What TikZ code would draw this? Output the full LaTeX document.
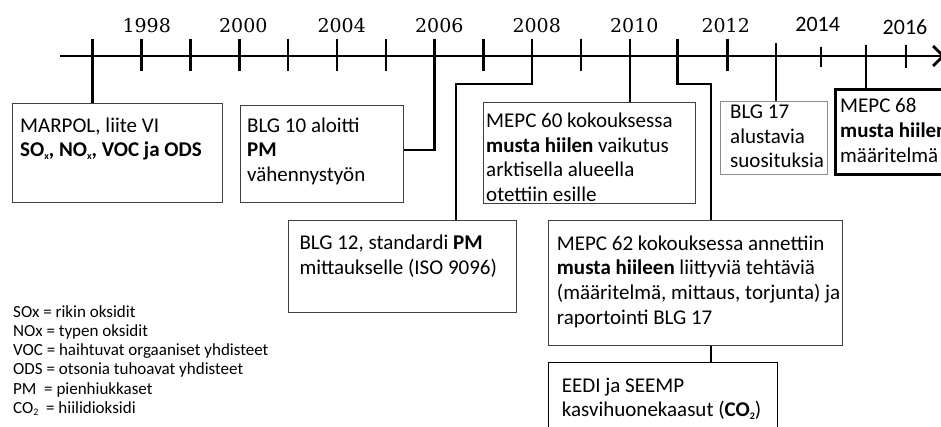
\documentclass[tikz,border=0pt]{standalone}
\usepackage{fontspec}
\setmainfont{Carlito}
\newfontfamily\yearfont{DejaVu Serif}
\usetikzlibrary{arrows.meta}
% fixed height for the first line of every text block
\newcommand\bxstrut{\rule{0pt}{16pt}}
\newcommand\lgstrut{\rule{0pt}{13pt}}
% small lowered index, as in SO_x
\newcommand\lowidx[1]{\raisebox{-2.5pt}{\fontsize{10}{10}\selectfont #1}}
\begin{document}
\begin{tikzpicture}[x=1pt,y=-1pt,
  conn/.style={line width=2.7pt,line join=miter},
  box/.style={draw=black!75,line width=1.1pt,fill=white,inner sep=0pt,anchor=north west},
  lightbox/.style={box,draw=black!45,line width=0.9pt},
  boldbox/.style={box,draw=black,line width=2.6pt},
  txt/.style={anchor=north west,inner sep=0pt,align=left,font=\fontsize{21}{24.6}\selectfont},
  legend/.style={anchor=north west,inner sep=0pt,align=left,font=\fontsize{17}{19.2}\selectfont},
  year/.style={anchor=base,inner sep=0pt,font=\yearfont\fontsize{19}{22}\selectfont},
  yearsans/.style={anchor=base,inner sep=0pt,font=\fontsize{22}{24}\selectfont}]
\useasboundingbox (0,0) rectangle (941,427);

% tick positions along the time axis
\foreach \n/\x in {1/92.7,2/141.7,3/190.7,4/239.3,5/288,6/337,7/386,8/434.3,9/483.3,
                   10/532,11/581,12/630,13/677.7,14/727.3,15/776,16/821,17/866,18/906}
  \coordinate (t\n) at (\x,56);

% bend points of the routed connectors
\coordinate (k0) at (434.3,150);
\coordinate (k1) at (456,84);
\coordinate (k2) at (711,84);

% axis and ticks
\draw[conn,-{Straight Barb[length=10pt,width=20pt]}] (60,56) -- (945,56);
\foreach \n in {1,2,3,4,5,6,7,8,9,10,11,12,13,14}
  \draw[conn] ([yshift=17pt]t\n) -- ([yshift=-15pt]t\n);
\draw[conn] ([yshift=13pt]t15) -- (t15);
\draw[conn] ([yshift=9pt]t16) -- ([yshift=-11pt]t16);
\draw[conn] ([yshift=11pt]t17) -- (t17);
\draw[conn] ([yshift=11pt]t18) -- ([yshift=-12pt]t18);

% year labels
\node[year] (y1998) at ([xshift=5pt]t2 |- 0,32.7) {1998};
\node[year] (y2000) at ([xshift=4pt]t4 |- 0,32.7) {2000};
\node[year] (y2004) at ([xshift=4.7pt]t6 |- 0,32.7) {2004};
\node[year] (y2006) at ([xshift=5pt]t8 |- 0,32.7) {2006};
\node[year] (y2008) at ([xshift=4.7pt]t10 |- 0,32.7) {2008};
\node[year] (y2010) at ([xshift=4.3pt]t12 |- 0,32.7) {2010};
\node[year] (y2012) at ([xshift=-1.6pt]t14 |- 0,32.7) {2012};
\node[yearsans] (y2014) at ([xshift=-3.3pt]t16 |- 0,31.7) {2014};
\node[yearsans] (y2016) at ([xshift=-1pt]t18 |- 0,35) {2016};

% event boxes
\node[box,minimum width=210pt,minimum height=99pt] (marpol) at (12,103) {};
\node[box,minimum width=163pt,minimum height=97pt] (blg10) at (240,105) {};
\node[box,minimum width=212pt,minimum height=101pt] (mepc60) at (483,102) {};
\node[lightbox,minimum width=107pt,minimum height=73pt] (blg17) at (720,101) {};
\node[boldbox,minimum width=130pt,minimum height=85pt] (mepc68) at (834,88) {};
\node[box,minimum width=228pt,minimum height=92pt] (blg12) at (288,220) {};
\node[box,minimum width=294pt,minimum height=125pt] (mepc62) at (548,220) {};
\node[box,draw=black,minimum width=229pt,minimum height=80pt] (eedi) at (548,361.5) {};

% connectors from the axis to the boxes
\draw[conn] ([yshift=17pt]t1) -- (t1 |- marpol.north);
\draw[conn] ([yshift=17pt]t8) -- (k0) -- (k0 -| blg10.east);
\draw[conn] ([yshift=17pt]t10) |- (k1) -- (k1 |- blg12.north);
\draw[conn] ([yshift=17pt]t12) -- (t12 |- mepc60.north);
\draw[conn] ([yshift=17pt]t13) |- (k2) -- (k2 |- mepc62.north);
\draw[conn] ([yshift=13pt]t15) -- (t15 |- blg17.north);
\draw[conn] ([yshift=11pt]t17) -- (t17 |- mepc68.north);
\draw[line width=2pt] (k2 |- mepc62.south) -- (k2 |- eedi.north);

% box texts
\node[txt] (marpolT) at (20,116) {\bxstrut MARPOL, liite VI\\
  \textbf{SO\lowidx{x}, NO\lowidx{x}, VOC ja ODS}};
\node[txt] (blg10T) at (247,116) {\bxstrut BLG 10 aloitti\\ \textbf{PM}\\ vähennystyön};
\node[txt] (mepc60T) at (486,111.5) {\bxstrut MEPC 60 kokouksessa\\
  \textbf{musta hiilen} vaikutus\\ arktisella alueella\\ otettiin esille};
\node[txt] (blg17T) at (730,102.3) {\bxstrut BLG 17\\ alustavia\\ suosituksia};
\node[txt] (mepc68T) at (840,96.7) {\bxstrut MEPC 68\\ \textbf{musta hiilen}\\ määritelmä};
\node[txt] (blg12T) at (299.3,233.3) {\bxstrut BLG 12, standardi \textbf{PM}\\ mittaukselle (ISO 9096)};
\node[txt] (mepc62T) at (556.7,234) {\bxstrut MEPC 62 kokouksessa annettiin\\
  \textbf{musta hiileen} liittyviä tehtäviä\\ (määritelmä, mittaus, torjunta) ja\\ raportointi BLG 17};
\node[txt] (eediT) at (561.7,376) {\bxstrut EEDI ja SEEMP\\
  kasvihuonekaasut (\textbf{CO\lowidx{2}})};

% abbreviations
\node[legend] (abbr) at (13,304) {\lgstrut SOx = rikin oksidit\\ NOx = typen oksidit\\
  VOC = haihtuvat orgaaniset yhdisteet\\ ODS = otsonia tuhoavat yhdisteet\\
  PM\ \ = pienhiukkaset\\ CO\lowidx{2}\ \ = hiilidioksidi};
\end{tikzpicture}
\end{document}
